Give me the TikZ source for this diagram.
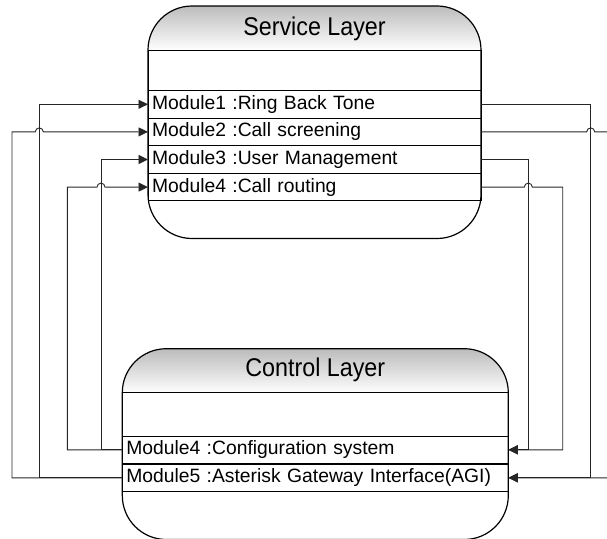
\documentclass[tikz,border=0pt]{standalone}
\usepackage{fontspec}
\setmainfont{Liberation Sans}
\usetikzlibrary{arrows.meta,calc}
\begin{document}
\begin{tikzpicture}[x=1pt,y=-1pt,
  layer/.style={draw, line width=1.2pt, rounded corners=44pt, inner sep=0pt, outer sep=0pt,
    path picture={\foreach \i in {0,...,22} {
        \pgfmathsetmacro\shadeval{26*(1-\i/22)}
        \fill[sharp corners, black!\shadeval]
          ([yshift=-2*\i pt]path picture bounding box.north west) rectangle
          ([yshift=-2*\i pt-2.3pt]path picture bounding box.north east);}}},
  ltitle/.style={font=\fontsize{23.3}{28}\selectfont, inner sep=0pt},
  rowbox/.style={draw, line width=0.9pt, anchor=north west, inner xsep=4pt, inner ysep=0pt, outer sep=0pt,
    minimum height=27.6pt, text height=13.8pt, text depth=3.8pt, align=left,
    font=\fontsize{19.3}{22}\selectfont},
  blankrow/.style={draw, line width=0.9pt, anchor=north west, inner sep=0pt, outer sep=0pt},
  conn/.style={line width=0.9pt, draw=black!85, -{Triangle[length=9.5pt,width=9pt]}}
]
\useasboundingbox (0,0) rectangle (607,538);
\clip (0,0) rectangle (607,538);

% lanes
\coordinate (L1) at (12,0);
\coordinate (L2) at (39.3,0);
\coordinate (L3) at (67.3,0);
\coordinate (L4) at (101,0);
\coordinate (R1) at (528.3,0);
\coordinate (R2) at (562.7,0);
\coordinate (R3) at (590.7,0);
\coordinate (R4) at (616,0);

% Service layer
\node[layer, minimum width=333pt, minimum height=232.5pt] (svc) at (314.5,122.25) {};
\node[ltitle] (svct) at (314.5,28.5) {\scalebox{1}[1.1]{Service Layer}};
\node[blankrow, minimum width=333pt, minimum height=40.5pt] (sb) at (148,50) {};
\node[rowbox, text width=325pt] (m1) at (148,90.5) {Module1 :Ring Back Tone};
\node[rowbox, text width=325pt] (m2) at (148,118.1) {Module2 :Call screening};
\node[rowbox, text width=325pt] (m3) at (148,145.7) {Module3 :User Management};
\node[rowbox, text width=325pt] (m4) at (148,173.3) {Module4 :Call routing};

% Control layer
\node[layer, minimum width=386pt, minimum height=190.8pt] (ctl) at (315.3,444.1) {};
\node[ltitle] (ctlt) at (315.3,369.5) {\scalebox{1}[1.1]{Control Layer}};
\node[blankrow, minimum width=386pt, minimum height=44pt] (cb) at (122.3,392) {};
\node[rowbox, text width=378pt] (c4) at (122.3,436) {Module4 :Configuration system};
\node[rowbox, text width=378pt] (c5) at (122.3,464) {Module5 :Asterisk Gateway Interface(AGI)};
\draw[line width=1.8pt] (c4.south west) -- (c4.south east);

% left connectors
\draw[conn] (c5.west) -- (c5.west -| L2) |- (m1.west);
\draw[conn] (c5.west) -- (c5.west -| L1) |- ($(m2.west -| L2)+(-4,0)$)
  arc[start angle=180, end angle=0, radius=4pt] -- (m2.west);
\draw[conn] (c4.west) -- (c4.west -| L4) |- (m3.west);
\draw[conn] (c4.west) -- (c4.west -| L3) |- ($(m4.west -| L4)+(-4,0)$)
  arc[start angle=180, end angle=0, radius=4pt] -- (m4.west);

% right connectors
\draw[conn] (m1.east) -- (m1.east -| R3) |- (c5.east);
\draw[conn] (m2.east) -- ($(m2.east -| R3)+(-4,0)$)
  arc[start angle=180, end angle=0, radius=4pt] -- (m2.east -| R4) |- (c5.east);
\draw[conn] (m3.east) -- (m3.east -| R1) |- (c4.east);
\draw[conn] (m4.east) -- ($(m4.east -| R1)+(-4,0)$)
  arc[start angle=180, end angle=0, radius=4pt] -- (m4.east -| R2) |- (c4.east);
\end{tikzpicture}
\end{document}
